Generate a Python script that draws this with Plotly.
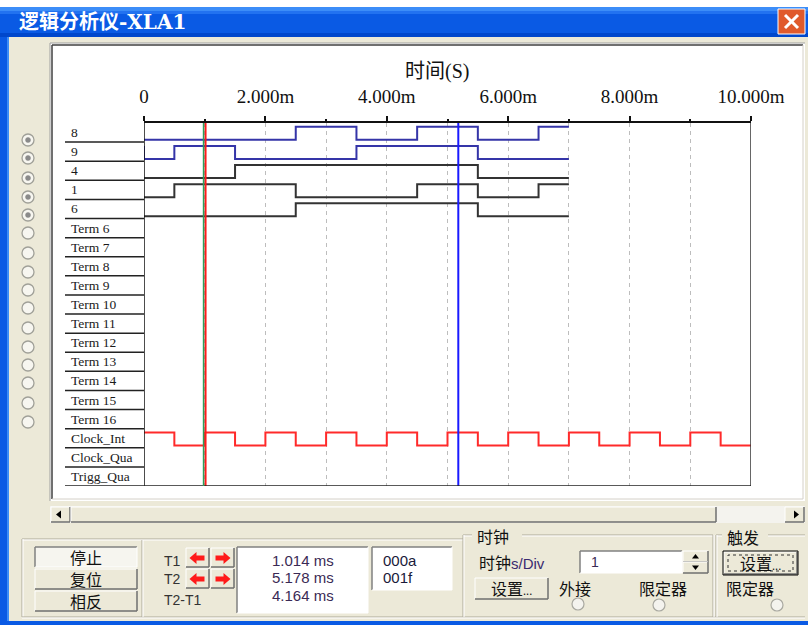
import plotly.graph_objects as go

W, H = 808, 625

# ---------------- data ----------------
row_labels = ["8", "9", "4", "1", "6", "Term 6", "Term 7", "Term 8", "Term 9", "Term 10",
              "Term 11", "Term 12", "Term 13", "Term 14", "Term 15", "Term 16",
              "Clock_Int", "Clock_Qua", "Trigg_Qua"]

# transition times (ms) and logic levels for each traced signal
sig8_t = [0, 2.5, 3.5, 4.5, 5.5, 6.5, 7.0]
sig8_v = [0, 1, 0, 1, 0, 1, 1]
sig9_t = [0, 0, 0.5, 1.5, 3.5, 5.5, 7.0]
sig9_v = [1, 0, 1, 0, 1, 0, 0]
sig4_t = [0, 1.5, 5.5, 7.0]
sig4_v = [0, 1, 0, 0]
sig1_t = [0, 0.5, 2.5, 4.5, 5.5, 6.5, 7.0]
sig1_v = [0, 1, 0, 1, 0, 1, 1]
sig6_t = [0, 2.5, 5.5, 7.0]
sig6_v = [0, 1, 0, 0]
clk_t = [0, 0.5, 1, 1.5, 2, 2.5, 3, 3.5, 4, 4.5, 5, 5.5, 6, 6.5, 7, 7.5, 8, 8.5, 9, 9.5, 10]
clk_v = [1, 0, 1, 0, 1, 0, 1, 0, 1, 0, 1, 0, 1, 0, 1, 0, 1, 0, 1, 0, 0]

tick_vals = [0, 2, 4, 6, 8, 10]
tick_text = ["0", "2.000m", "4.000m", "6.000m", "8.000m", "10.000m"]
minor_vals = [1, 3, 5, 7, 9]

t1 = 1.014
t2 = 5.178
readouts = ["1.014 ms", "5.178 ms", "4.164 ms"]
hex_vals = ["000a", "001f"]

# ---------------- helpers ----------------
shapes = []
annos = []


def X(p):
    return p / W


def Y(p):
    return 1 - p / H


def rect(x0, y0, x1, y1, fill, line=None, lw=0, layer="below"):
    shapes.append(dict(type="rect", xref="paper", yref="paper",
                       x0=X(x0), x1=X(x1), y0=Y(y1), y1=Y(y0),
                       fillcolor=fill, line=dict(color=line or fill, width=lw), layer=layer))


def seg(x0, y0, x1, y1, color, w=1, layer="below", dash=None):
    ln = dict(color=color, width=w)
    if dash:
        ln["dash"] = dash
    shapes.append(dict(type="line", xref="paper", yref="paper",
                       x0=X(x0), x1=X(x1), y0=Y(y0), y1=Y(y1), line=ln, layer=layer))


def poly(pts, fill, layer="above"):
    path = "M" + " L".join(f"{X(a):.5f},{Y(b):.5f}" for a, b in pts) + " Z"
    shapes.append(dict(type="path", xref="paper", yref="paper", path=path,
                       fillcolor=fill, line=dict(color=fill, width=0), layer=layer))


def circle(cx, cy, r, color, fill="rgba(0,0,0,0)", w=1):
    shapes.append(dict(type="circle", xref="paper", yref="paper",
                       x0=X(cx - r), x1=X(cx + r), y0=Y(cy + r), y1=Y(cy - r),
                       fillcolor=fill, line=dict(color=color, width=w), layer="above"))


def text(x, y, s, size=14, color="#111", family="Noto Sans CJK SC", anchor="left", bold=False):
    if bold:
        s = "<b>" + s + "</b>"
    annos.append(dict(xref="paper", yref="paper", x=X(x), y=Y(y), text=s, showarrow=False,
                      xanchor=anchor, yanchor="middle", font=dict(size=size, color=color, family=family)))


def raised(x0, y0, x1, y1, fill="#ECE9D8", default=False):
    rect(x0, y0, x1, y1, fill)
    seg(x0, y0, x1, y0, "#FFFFFF", 1)
    seg(x0, y0, x0, y1, "#FFFFFF", 1)
    seg(x0, y1, x1, y1, "#6F6F6F", 1.5)
    seg(x1, y0, x1, y1, "#6F6F6F", 1.5)
    if default:
        rect(x0 - 1, y0 - 1, x1 + 1, y1 + 1, "rgba(0,0,0,0)", "#000000", 1)


def sunken(x0, y0, x1, y1, fill="#FFFFFF"):
    rect(x0, y0, x1, y1, fill)
    seg(x0, y0, x1, y0, "#808080", 1.5)
    seg(x0, y0, x0, y1, "#808080", 1.5)
    seg(x0, y1, x1, y1, "#FFFFFF", 1)
    seg(x1, y0, x1, y1, "#FFFFFF", 1)


def etched_h(x0, x1, y):
    seg(x0, y, x1, y, "#ACA899", 1)
    seg(x0, y + 1, x1, y + 1, "#FFFFFF", 1)


def etched_v(x, y0, y1):
    seg(x, y0, x, y1, "#ACA899", 1)
    seg(x + 1, y0, x + 1, y1, "#FFFFFF", 1)


# ---------------- window chrome ----------------
rect(0, 0, W, 7, "#FFFFFF")
rect(0, 7, W, 37, "#0A5AE4")
rect(0, 7, W, 11, "#3C8DF8")
rect(0, 11, W, 14, "#2272F0")
rect(0, 33, W, 37, "#0047CC")
rect(0, 37, 9, H, "#0A5AE4")
rect(7, 37, 9, H, "#3C8DF8")
rect(0, 621, W, H, "#0A5AE4")
# close button
rect(778, 9, 805, 34, "#E05A2C", "#FFFFFF", 1, layer="above")
seg(785, 15, 798, 28, "#FFFFFF", 3, layer="above")
seg(798, 15, 785, 28, "#FFFFFF", 3, layer="above")
text(17, 21, "逻辑分析仪<span style='font-family:DejaVu Serif'>-XLA1</span>", 20, "#FFFFFF",
     "Noto Sans CJK SC", bold=True)

# plot panel (sunken white)
rect(50, 43, 805, 501, "#FFFFFF")
seg(50, 43, 805, 43, "#A0A0A0", 1)
seg(50, 43, 50, 501, "#A0A0A0", 1)
seg(52, 45, 803, 45, "#404040", 1.5)
seg(52, 45, 52, 499, "#404040", 1.5)
seg(52, 499, 803, 499, "#D4D0C8", 1)
seg(803, 45, 803, 499, "#D4D0C8", 1)

# horizontal scrollbar
rect(50, 506, 805, 523, "#F4F3EE")
raised(51, 507, 70, 522)
poly([(56, 514.5), (61, 510.5), (61, 518.5)], "#000000")
raised(71, 507, 716, 522)
raised(785, 507, 804, 522)
poly([(799, 514.5), (794, 510.5), (794, 518.5)], "#000000")

# left radio column
radio_y = [140, 158, 178, 197, 215, 233, 253, 272, 290, 308, 328, 347, 365, 383, 403, 422]
for i, cy in enumerate(radio_y):
    circle(28, cy, 6, "#A0A098", "#F7F6F0", 1.3)
    if i < 5:
        circle(28, cy, 2.5, "#8A8A8A", "#8A8A8A", 0.5)

# ---------------- bottom control panel ----------------
etched_h(22, 463, 539)
etched_v(22, 539, 617)
etched_h(22, 805, 617)
etched_v(142, 540, 617)

# run / reset / invert buttons
sunken(35, 547, 137, 567, "#F6F5EF")
raised(35, 569, 137, 589)
raised(35, 591, 137, 611)
text(86, 557, "停止", 16, "#111", anchor="center")
text(86, 579, "复位", 16, "#111", anchor="center")
text(86, 601, "相反", 16, "#111", anchor="center")

# cursor buttons
text(162, 561, "T1", 14, "#333", "Liberation Sans")
text(162, 579, "T2", 14, "#333", "Liberation Sans")
text(162, 600, "T2-T1", 14, "#333", "Liberation Sans")
for (bx, by) in [(186, 548), (211, 548), (186, 569), (211, 569)]:
    raised(bx, by, bx + 23, by + 19)
for by in [558, 579]:
    cx, cy = 197.5, by
    poly([(cx - 8, cy), (cx - 1, cy - 6), (cx - 1, cy - 2.5), (cx + 7, cy - 2.5),
          (cx + 7, cy + 2.5), (cx - 1, cy + 2.5), (cx - 1, cy + 6)], "#FF1A1A")
    cx = 222.5
    poly([(cx + 8, cy), (cx + 1, cy - 6), (cx + 1, cy - 2.5), (cx - 7, cy - 2.5),
          (cx - 7, cy + 2.5), (cx + 1, cy + 2.5), (cx + 1, cy + 6)], "#FF1A1A")

# readout boxes
sunken(237, 547, 368, 613)
for s, yy in zip(readouts, [560, 577, 595]):
    text(303, yy, s, 15, "#3A2A55", "Liberation Sans", anchor="center")
sunken(372, 547, 452, 590)
for s, yy in zip(hex_vals, [560, 577]):
    text(381, yy, s, 15, "#1A1A3A", "Liberation Sans")

# clock group
etched_h(463, 472, 535)
etched_h(522, 713, 535)
etched_v(463, 535, 617)
etched_v(713, 535, 617)
text(475, 536, "时钟", 16, "#111")
text(477, 562, "时钟<span style='font-family:Liberation Sans;font-size:15px;color:#3A2A70'>s/Div</span>", 16, "#111")
sunken(580, 551, 682, 573)
text(589, 562, "1", 14, "#3A2A55", "Liberation Sans")
raised(683, 551, 708, 562)
raised(683, 562, 708, 573)
poly([(695.5, 554), (692, 558.5), (699, 558.5)], "#000000")
poly([(695.5, 570), (692, 565.5), (699, 565.5)], "#000000")
raised(475, 578, 548, 599)
text(511, 588, "设置<span style='font-size:11px'>...</span>", 16, "#111", anchor="center")
text(557, 588, "外接", 16, "#111")
text(637, 588, "限定器", 16, "#111")
circle(578, 604, 6, "#A8A8A0", "#F4F3EE", 1.2)
circle(659, 605, 6, "#A8A8A0", "#F4F3EE", 1.2)

# trigger group
etched_h(716, 722, 535)
etched_h(768, 805, 535)
etched_v(716, 535, 617)
text(725, 537, "触发", 16, "#111")
raised(724, 552, 797, 574, default=True)
rect(728, 555, 793, 571, "rgba(0,0,0,0)", "#333333", 1, layer="above")
shapes[-1]["line"]["dash"] = "dot"
text(760, 563, "设置<span style='font-size:11px'>...</span>", 16, "#111", anchor="center")
text(724, 588, "限定器", 16, "#111")
circle(777, 605, 6, "#A8A8A0", "#F4F3EE", 1.2)

# ---------------- waveform area ----------------
fig = go.Figure()

HI, LO = 0.2, 0.88


def levels(row, vals):
    return [row + (HI if v else LO) for v in vals]


signals = [
    (0, sig8_t, sig8_v, "#3535A8"),
    (1, sig9_t, sig9_v, "#3535A8"),
    (2, sig4_t, sig4_v, "#333333"),
    (3, sig1_t, sig1_v, "#333333"),
    (4, sig6_t, sig6_v, "#333333"),
    (16, clk_t, clk_v, "#FF2A2A"),
]
for row, ts, vs, col in signals:
    fig.add_trace(go.Scatter(x=ts, y=levels(row, vs), mode="lines", line=dict(color=col, width=2, shape="hv"),
                             hoverinfo="skip", showlegend=False))

n_rows = len(row_labels)

# frame lines of the trace area
shapes.append(dict(type="line", xref="x", yref="y", x0=0, x1=0, y0=-0.27, y1=n_rows,
                   line=dict(color="#111", width=1.5), layer="above"))
shapes.append(dict(type="line", xref="x", yref="y", x0=10, x1=10, y0=-0.27, y1=n_rows,
                   line=dict(color="#333", width=1.5), layer="above"))
for i in range(1, n_rows + 1):
    shapes.append(dict(type="line", xref="paper", yref="y", x0=X(65), x1=X(144) if i < n_rows else X(751),
                       y0=i, y1=i, line=dict(color="#222", width=1.5), layer="above"))
for i, lab in enumerate(row_labels):
    annos.append(dict(xref="paper", yref="y", x=X(69), y=i + 0.5, text=lab, showarrow=False,
                      xanchor="left", yanchor="middle",
                      font=dict(size=13.5, color="#1A1A1A", family="Liberation Serif")))

# cursors
fig.add_trace(go.Scatter(x=[t1, t1], y=[-0.15, n_rows], mode="lines", line=dict(color="#FF1A1A", width=2),
                         cliponaxis=False, hoverinfo="skip", showlegend=False))
fig.add_trace(go.Scatter(x=[t2, t2], y=[-0.15, n_rows], mode="lines", line=dict(color="#1A1AFF", width=2),
                         cliponaxis=False, hoverinfo="skip", showlegend=False))
shapes.append(dict(type="line", xref="x", yref="y", xsizemode="pixel", xanchor=t1, x0=-2, x1=-2,
                   y0=0, y1=n_rows, line=dict(color="#2E9E5A", width=1.5), layer="above"))
for tc, col, lab in [(t1, "#FF1A1A", "1"), (t2, "#1A1AFF", "2")]:
    shapes.append(dict(type="path", xref="x", yref="y", xsizemode="pixel", ysizemode="pixel",
                       xanchor=tc, yanchor=0, path="M-10,9 L10,9 L1,0 L-1,0 Z",
                       fillcolor=col, line=dict(color=col, width=0), layer="above"))
    annos.append(dict(xref="x", yref="paper", x=tc, y=Y(117.5), text=lab, showarrow=False,
                      font=dict(size=7, color="#FFFFFF", family="DejaVu Sans"), xanchor="center", yanchor="middle"))

# axis title
text(437, 70, "时间<span style='font-family:Liberation Serif'>(S)</span>", 20, "#111", anchor="center")

fig.update_layout(
    width=W, height=H, margin=dict(l=0, r=0, t=0, b=0, pad=0, autoexpand=False), autosize=False,
    paper_bgcolor="#ECE9D8", plot_bgcolor="rgba(0,0,0,0)",
    shapes=shapes, annotations=annos, showlegend=False,
    xaxis=dict(domain=[X(144), X(751)], range=[0, 10], side="top", anchor="y", automargin=False,
               tickvals=tick_vals, ticktext=tick_text,
               tickfont=dict(family="Liberation Serif", size=19, color="#111"),
               ticks="outside", ticklen=5, tickcolor="#111", tickwidth=1.5,
               showline=True, linecolor="#111", linewidth=1.5,
               showgrid=True, gridcolor="#BDBDBD", griddash="4px,4px", gridwidth=1.2,
               minor=dict(tickvals=minor_vals, ticks="outside", ticklen=2, tickcolor="#111",
                          showgrid=True, gridcolor="#BDBDBD", griddash="4px,4px", gridwidth=1.2),
               zeroline=False, fixedrange=True, ticklabelstandoff=6),
    yaxis=dict(domain=[Y(486), Y(123)], range=[n_rows, 0], showticklabels=False, showgrid=False,
               automargin=False, zeroline=False, showline=False, ticks="", fixedrange=True),
)
fig.update_xaxes(tickprefix="<b>", ticksuffix="</b>")

fig.write_html("out.html", config={"responsive": False, "displayModeBar": False},
               post_script="document.body.style.margin='0';document.body.style.padding='0';"
                           "document.documentElement.style.overflow='hidden';")
